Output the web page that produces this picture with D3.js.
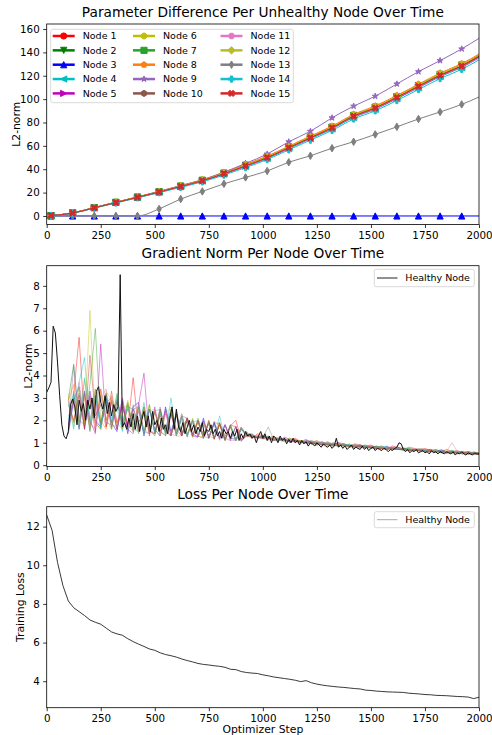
<!DOCTYPE html>
<html>
<head>
<meta charset="utf-8">
<script src="https://cdn.jsdelivr.net/npm/d3@7"></script>
<style>
  body { margin: 0; background: #fff; }
  text { font-family: "DejaVu Sans", sans-serif; }
</style>
</head>
<body>
<div id="chart"></div>
<script>
// ---- data: parameter difference (top) ----
const nodeNames = d3.range(1, 16).map(i => "Node " + i);
const nodeColors = ["#ff0000", "#008000", "#0000ff", "#00bfbf", "#bf00bf", "#bfbf00", "#2ca02c", "#ff7f0e",
                    "#9467bd", "#8c564b", "#e377c2", "#bcbd22", "#7f7f7f", "#17becf", "#d62728"];
const nodeMarkers = ["o", "v", "^", "<", ">", "8", "s", "p", "*", "h", "H", "D", "d", "P", "X"];

const paramSteps = [20, 120, 220, 320, 420, 520, 620, 720, 820, 920, 1020, 1120, 1220, 1320, 1420, 1520, 1620, 1720, 1820, 1920, 2000];
const paramNode1  = [0.3, 2.5, 7.0, 11.5, 16.0, 20.5, 25.3, 30.2, 36.3, 43.0, 50.0, 58.5, 67.0, 75.5, 85.5, 92.5, 101.5, 111.0, 120.5, 128.5, 136.5];
const paramNode2  = [0.3, 2.6, 7.1, 11.6, 16.1, 20.6, 25.4, 30.4, 36.5, 43.2, 50.3, 58.8, 67.3, 75.8, 85.9, 92.9, 101.9, 111.5, 121.0, 129.0, 137.2];
const paramNode3  = [0, 0, 0, 0, 0, 0, 0, 0, 0, 0, 0, 0, 0, 0, 0, 0, 0, 0, 0, 0, 0];
const paramNode4  = [0.3, 2.4, 6.9, 11.4, 15.9, 20.3, 25.0, 29.8, 35.8, 42.3, 49.2, 57.6, 66.0, 74.4, 84.3, 91.3, 100.3, 109.7, 119.2, 127.1, 135.2];
const paramNode5  = [0.3, 2.5, 7.0, 11.4, 15.9, 20.4, 25.2, 30.0, 36.0, 42.7, 49.6, 58.1, 66.5, 75.0, 84.9, 91.9, 100.8, 110.3, 119.8, 127.7, 135.8];
const paramNode6  = [0.3, 2.6, 7.2, 11.7, 16.2, 20.8, 25.7, 30.7, 36.9, 43.7, 50.8, 59.3, 67.8, 76.4, 86.4, 93.5, 102.5, 112.1, 121.6, 129.6, 137.8];
const paramNode7  = [0.3, 2.6, 7.1, 11.6, 16.1, 20.7, 25.5, 30.5, 36.6, 43.4, 50.5, 59.0, 67.5, 76.0, 86.1, 93.1, 102.1, 111.7, 121.2, 129.2, 137.5];
const paramNode8  = [0.3, 2.7, 7.3, 11.8, 16.4, 21.0, 26.0, 31.0, 37.3, 44.2, 51.3, 59.8, 68.4, 77.0, 87.0, 94.2, 103.2, 112.8, 122.4, 130.4, 138.6];
const paramNode9  = [0.3, 2.6, 7.2, 11.8, 16.3, 21.0, 26.0, 31.0, 37.5, 45.0, 53.0, 63.5, 72.5, 84.0, 94.0, 102.5, 113.0, 123.5, 133.0, 143.0, 152.0];
const paramNode10 = [0.3, 2.5, 7.0, 11.5, 16.0, 20.6, 25.4, 30.3, 36.4, 43.1, 50.2, 58.6, 67.1, 75.6, 85.7, 92.7, 101.7, 111.2, 120.7, 128.7, 136.9];
const paramNode11 = [0.3, 2.5, 7.0, 11.5, 15.9, 20.4, 25.2, 30.1, 36.1, 42.8, 49.8, 58.2, 66.6, 75.1, 85.0, 92.0, 100.9, 110.4, 119.8, 127.7, 135.6];
const paramNode12 = [0.3, 2.6, 7.1, 11.6, 16.2, 20.7, 25.6, 30.6, 36.7, 43.5, 50.6, 59.1, 67.6, 76.2, 86.2, 93.3, 102.3, 111.9, 121.4, 129.4, 137.6];
const paramNode13 = [0, 0, 0, 0, 0, 6.0, 14.5, 21.0, 27.5, 33.0, 38.5, 46.0, 51.5, 58.0, 63.5, 69.8, 76.3, 83.0, 89.0, 95.5, 101.8];
const paramNode14 = [0.3, 2.3, 6.7, 11.1, 15.5, 19.9, 24.5, 29.2, 35.0, 41.4, 48.3, 56.6, 64.9, 73.2, 83.0, 90.0, 98.8, 108.2, 117.6, 125.5, 133.6];
const paramNode15 = [0.3, 2.5, 7.0, 11.5, 16.0, 20.5, 25.3, 30.2, 36.2, 42.9, 49.9, 58.4, 66.9, 75.4, 85.4, 92.4, 101.4, 110.9, 120.3, 128.3, 136.4];
const paramSeries = [paramNode1, paramNode2, paramNode3, paramNode4, paramNode5, paramNode6, paramNode7, paramNode8,
                     paramNode9, paramNode10, paramNode11, paramNode12, paramNode13, paramNode14, paramNode15];

// ---- data: gradient norm (middle) ----
const gradHealthySteps = d3.range(0, 2001, 10);
const gradHealthy = [
  3.25, 3.45, 3.7, 6.2, 5.9, 4.6, 3.1, 1.8, 1.3, 1.18,
  1.5, 2.7, 2.95, 2.6, 1.8, 2.9, 2.4, 2.75, 2.0, 2.9,
  2.5, 3.0, 2.1, 3.3, 3.5, 2.8, 2.5, 3.1, 2.3, 2.8,
  2.2, 2.7, 2.4, 2.6, 8.5, 1.7, 1.9, 1.6, 2.1, 1.7,
  2.3, 1.6, 2.2, 1.5, 2.0, 2.4, 1.7, 2.2, 1.5, 2.4,
  1.8, 2.0, 1.5, 2.1, 1.6, 1.8, 1.4, 2.1, 2.6, 1.6,
  2.5, 1.7, 1.5, 1.9, 1.4, 1.7, 2.0, 1.5, 1.8, 1.4,
  1.7, 1.5, 1.9, 1.3, 1.6, 1.5, 1.8, 1.4, 1.6, 1.3,
  1.5, 1.2, 1.6, 1.4, 1.5, 1.2, 1.5, 1.3, 1.6, 1.1,
  1.4, 1.2, 1.5, 1.3, 1.4, 1.2, 1.3, 1.0, 1.3, 1.5,
  1.2, 1.4, 1.1, 1.3, 1.0, 1.3, 1.2, 1.0, 1.3, 1.1,
  1.2, 0.95, 1.15, 1.0, 1.2, 1.0, 1.1, 0.9, 1.1, 0.95,
  1.05, 0.85, 1.0, 0.95, 0.85, 1.0, 0.9, 0.8, 0.95, 0.85,
  0.8, 0.9, 0.75, 0.85, 1.2, 0.8, 0.9, 0.75, 0.85, 0.7,
  0.8, 0.9, 0.7, 0.8, 0.75, 0.7, 0.85, 0.7, 0.8, 0.65,
  0.75, 0.8, 0.65, 0.75, 0.7, 0.65, 0.75, 0.7, 0.6, 0.7,
  0.65, 0.75, 0.8, 1.0, 0.95, 0.7, 0.6, 0.7, 0.55, 0.65,
  0.6, 0.7, 0.55, 0.6, 0.65, 0.55, 0.6, 0.5, 0.65, 0.55,
  0.6, 0.5, 0.6, 0.55, 0.5, 0.6, 0.55, 0.5, 0.6, 0.45,
  0.55, 0.5, 0.6, 0.5, 0.45, 0.55, 0.5, 0.45, 0.55, 0.5,
  0.5
];
const gradNodeSteps = d3.range(100, 2001, 25);
const gradNode1 = [1.6, 3.2, 5.7, 1.9, 3.1, 1.5, 3.4, 2.0, 2.9, 1.6, 2.8,
  1.7, 3.9, 1.5, 2.6, 1.4, 2.4, 1.5, 2.5, 1.3, 2.3, 1.4,
  2.1, 1.3, 2.0, 1.35, 1.9, 1.2, 1.85, 1.3, 1.75, 2.0, 1.15,
  1.5, 1.2, 1.4, 1.3, 1.2, 1.3, 1.1, 1.25, 1.15, 1.2, 1.05,
  1.15, 1.0, 1.1, 0.95, 1.05, 0.9, 1.0, 0.95, 0.85, 0.95, 0.9,
  0.85, 0.9, 0.8, 0.85, 0.75, 0.85, 0.8, 0.7, 0.8, 0.75, 0.7,
  0.75, 0.65, 0.7, 0.6, 0.7, 0.6, 0.65, 0.55, 0.6, 0.55, 0.55];
const gradNode2 = [2.9, 4.5, 1.7, 3.3, 1.5, 3.1, 1.9, 3.2, 1.6, 2.9, 1.9,
  2.8, 1.5, 2.6, 1.4, 2.7, 1.4, 2.3, 1.6, 2.5, 1.4, 2.2,
  1.35, 2.0, 1.3, 1.95, 1.25, 1.85, 1.2, 1.8, 1.2, 1.7, 1.15,
  1.4, 1.35, 1.25, 1.3, 1.15, 1.25, 1.2, 1.1, 1.2, 1.05, 1.1,
  1.0, 1.1, 1.0, 1.05, 0.9, 1.0, 0.9, 0.95, 0.85, 0.9, 0.85,
  0.9, 0.8, 0.85, 0.75, 0.8, 0.75, 0.8, 0.7, 0.75, 0.7, 0.65,
  0.7, 0.65, 0.6, 0.7, 0.6, 0.65, 0.55, 0.6, 0.55, 0.5, 0.55];
const gradNode3 = [1.4, 2.9, 3.5, 1.6, 3.3, 2.0, 1.7, 3.0, 1.9, 1.5, 2.9,
  1.4, 2.6, 2.8, 1.3, 2.5, 1.6, 1.3, 2.6, 1.5, 2.3, 1.3,
  2.1, 1.4, 1.25, 2.1, 1.2, 1.9, 1.25, 1.8, 1.2, 1.15, 1.7,
  1.3, 1.4, 1.2, 1.3, 1.25, 1.1, 1.2, 1.15, 1.05, 1.15, 1.0,
  1.1, 1.05, 0.95, 1.0, 0.95, 0.9, 1.0, 0.85, 0.9, 0.85, 0.9,
  0.8, 0.85, 0.8, 0.75, 0.85, 0.7, 0.75, 0.75, 0.7, 0.65, 0.7,
  0.65, 0.7, 0.6, 0.65, 0.6, 0.55, 0.6, 0.55, 0.6, 0.5, 0.5];
const gradNode4 = [2.8, 1.6, 3.7, 4.8, 1.8, 3.4, 1.6, 3.1, 2.1, 2.6, 1.5,
  2.7, 1.6, 1.5, 2.8, 1.4, 2.4, 2.5, 1.3, 2.4, 1.5, 2.0,
  1.4, 2.0, 1.45, 1.8, 1.3, 1.8, 1.25, 1.2, 1.75, 1.1, 1.6,
  1.35, 1.25, 1.3, 1.2, 1.3, 1.15, 1.1, 1.2, 1.1, 1.05, 1.1,
  1.05, 0.95, 1.05, 0.9, 1.0, 0.95, 0.85, 0.95, 0.9, 0.8, 0.9,
  0.85, 0.8, 0.75, 0.85, 0.8, 0.7, 0.8, 0.7, 0.75, 0.65, 0.7,
  0.7, 0.6, 0.65, 0.6, 0.55, 0.65, 0.6, 0.5, 0.6, 0.55, 0.5];
const gradNode5 = [1.8, 3.0, 1.6, 3.2, 2.0, 1.4, 5.4, 1.7, 2.8, 1.6, 3.0,
  1.6, 1.4, 2.7, 4.1, 1.3, 2.6, 1.3, 2.4, 1.35, 2.3, 1.3,
  2.1, 1.3, 1.25, 2.0, 1.2, 1.95, 1.15, 1.8, 1.1, 1.75, 1.1,
  1.35, 1.3, 1.2, 1.3, 1.2, 1.15, 1.1, 1.2, 1.0, 1.1, 1.05,
  1.0, 1.05, 0.9, 1.0, 0.9, 0.95, 0.85, 0.9, 0.8, 0.9, 0.85,
  0.8, 0.85, 0.75, 0.8, 0.7, 0.8, 0.7, 0.75, 0.65, 0.7, 0.7,
  0.6, 0.7, 0.6, 0.6, 0.55, 0.6, 0.55, 0.6, 0.5, 0.55, 0.5];
const gradNode6 = [3.1, 1.7, 3.5, 1.9, 6.9, 1.8, 3.3, 2.1, 1.6, 3.1, 1.7,
  2.9, 1.6, 2.6, 1.5, 2.7, 1.4, 2.5, 1.35, 2.4, 1.45, 2.3,
  1.3, 2.1, 1.3, 1.25, 2.0, 1.2, 1.9, 1.15, 1.75, 1.1, 1.7,
  1.3, 1.35, 1.25, 1.2, 1.3, 1.1, 1.2, 1.1, 1.15, 1.0, 1.1,
  1.05, 0.95, 1.0, 0.95, 1.0, 0.85, 0.95, 0.9, 0.85, 0.9, 0.8,
  0.85, 0.8, 0.8, 0.75, 0.8, 0.75, 0.7, 0.8, 0.7, 0.7, 0.65,
  0.7, 0.6, 0.65, 0.55, 0.65, 0.6, 0.55, 0.6, 0.55, 0.55, 0.5];
const gradNode7 = [1.5, 3.2, 2.0, 1.8, 3.6, 6.1, 1.8, 3.0, 1.9, 3.2, 1.6,
  2.6, 2.5, 1.4, 2.6, 1.6, 1.3, 2.4, 1.5, 1.3, 2.4, 1.4,
  2.0, 1.25, 2.1, 1.3, 1.2, 1.9, 1.85, 1.15, 1.8, 1.15, 1.6,
  1.4, 1.3, 1.25, 1.35, 1.15, 1.2, 1.15, 1.05, 1.15, 1.1, 1.0,
  1.05, 1.0, 0.95, 0.9, 1.0, 0.9, 0.95, 0.85, 0.95, 0.85, 0.8,
  0.85, 0.75, 0.85, 0.8, 0.75, 0.8, 0.7, 0.75, 0.7, 0.65, 0.75,
  0.65, 0.6, 0.7, 0.6, 0.6, 0.55, 0.6, 0.55, 0.5, 0.6, 0.55];
const gradNode8 = [2.9, 3.6, 1.9, 3.0, 1.7, 3.4, 2.0, 1.6, 3.1, 1.8, 2.5,
  2.7, 1.5, 2.5, 1.6, 1.4, 2.5, 1.5, 1.35, 2.3, 1.3, 2.2,
  1.4, 1.9, 1.25, 1.9, 1.3, 1.2, 1.8, 1.15, 1.75, 1.1, 1.65,
  1.3, 1.25, 1.35, 1.2, 1.25, 1.15, 1.2, 1.1, 1.1, 1.05, 1.1,
  1.0, 1.0, 1.05, 0.9, 0.95, 0.9, 0.85, 0.9, 0.85, 0.85, 0.8,
  0.8, 0.85, 0.75, 0.75, 0.8, 0.7, 0.75, 0.7, 0.65, 0.7, 0.65,
  0.65, 0.65, 0.6, 0.6, 0.6, 0.55, 0.55, 0.6, 0.5, 0.5, 0.55];
const gradNode9 = [1.7, 4.4, 2.1, 3.3, 1.9, 1.6, 3.1, 1.9, 1.8, 2.9, 2.0,
  1.6, 2.7, 1.5, 2.5, 1.6, 1.4, 2.6, 1.4, 2.3, 1.3, 2.2,
  2.1, 1.25, 1.95, 1.3, 1.9, 1.2, 1.85, 1.2, 1.1, 1.7, 1.05,
  1.35, 1.3, 1.2, 1.25, 1.2, 1.2, 1.1, 1.15, 1.05, 1.1, 1.0,
  1.05, 0.95, 1.0, 1.0, 0.9, 0.95, 0.9, 0.85, 0.9, 0.8, 0.85,
  0.8, 0.8, 0.75, 0.8, 0.7, 0.75, 0.75, 0.65, 0.7, 0.7, 0.65,
  0.65, 0.6, 0.6, 0.65, 0.55, 0.6, 0.55, 0.5, 0.55, 0.55, 0.5];
const gradNode10 = [2.7, 2.0, 3.2, 1.7, 3.0, 1.9, 1.6, 3.2, 1.7, 2.8, 1.8,
  2.5, 1.8, 2.4, 1.4, 2.5, 1.5, 2.2, 1.6, 1.3, 2.2, 1.35,
  1.95, 1.4, 1.9, 1.2, 1.9, 1.2, 1.8, 1.1, 1.7, 1.1, 1.6,
  1.3, 1.3, 1.25, 1.2, 1.2, 1.15, 1.15, 1.1, 1.05, 1.1, 1.0,
  1.0, 1.0, 0.95, 0.95, 0.9, 0.9, 0.9, 0.85, 0.85, 0.85, 0.8,
  0.8, 0.8, 0.75, 0.75, 0.75, 0.7, 0.7, 0.7, 0.65, 0.65, 0.65,
  0.6, 0.6, 0.6, 0.6, 0.55, 0.55, 0.55, 0.55, 0.5, 0.5, 0.5];
const gradNode11 = [2.2, 2.6, 3.7, 2.1, 3.3, 1.8, 3.0, 3.4, 1.8, 1.7, 3.0,
  1.8, 1.5, 2.8, 1.4, 2.4, 2.5, 1.3, 2.3, 1.4, 1.3, 2.3,
  1.25, 2.05, 1.3, 1.9, 1.25, 1.8, 1.1, 1.8, 1.1, 1.1, 1.7,
  1.35, 1.2, 1.3, 1.25, 1.1, 1.2, 1.1, 1.1, 1.1, 1.0, 1.05,
  0.95, 1.05, 0.95, 0.95, 0.85, 1.0, 0.85, 0.9, 0.8, 0.9, 0.8,
  0.75, 0.85, 0.7, 0.8, 0.75, 0.7, 0.75, 0.7, 0.65, 0.75, 0.6,
  0.7, 0.6, 0.65, 0.55, 0.6, 1.0, 0.6, 0.5, 0.55, 0.5, 0.55];
const gradNode12 = [3.2, 2.6, 1.8, 3.8, 2.2, 1.9, 1.6, 3.3, 2.9, 1.9, 1.6,
  2.8, 1.7, 1.5, 2.6, 1.5, 2.4, 1.3, 2.3, 2.6, 1.3, 1.3,
  2.15, 1.25, 1.95, 1.3, 1.85, 1.15, 1.85, 1.1, 1.7, 1.1, 1.65,
  1.25, 1.3, 1.3, 1.15, 1.2, 1.2, 1.1, 1.05, 1.15, 1.05, 1.0,
  1.05, 0.95, 0.9, 1.0, 0.9, 0.85, 0.95, 0.85, 0.8, 0.85, 0.85,
  0.8, 0.75, 0.8, 0.75, 0.7, 0.75, 0.7, 0.65, 0.75, 0.65, 0.7,
  0.6, 0.65, 0.6, 0.55, 0.6, 0.55, 0.6, 0.5, 0.55, 0.5, 0.5];
const gradNode13 = [1.6, 3.0, 1.9, 3.1, 1.6, 2.9, 1.8, 2.8, 3.0, 1.6, 2.7,
  1.5, 2.5, 2.6, 1.5, 1.4, 2.4, 1.5, 1.3, 2.3, 1.4, 2.1,
  1.25, 2.0, 1.3, 1.2, 1.9, 1.2, 1.8, 1.15, 1.75, 1.1, 1.65,
  1.3, 1.35, 1.2, 1.25, 1.7, 1.15, 1.2, 1.1, 1.1, 1.05, 1.05,
  1.0, 0.95, 1.0, 0.9, 0.95, 0.9, 0.85, 0.9, 0.85, 0.8, 0.85,
  0.8, 0.75, 0.8, 0.7, 0.75, 0.75, 0.7, 0.7, 0.7, 0.65, 0.65,
  0.65, 0.6, 0.6, 0.6, 0.55, 0.55, 0.55, 0.55, 0.5, 0.5, 0.5];
const gradNode14 = [2.0, 3.3, 1.6, 3.9, 2.0, 3.1, 1.7, 2.9, 1.9, 3.0, 1.7,
  2.7, 1.6, 2.6, 1.4, 2.5, 1.5, 2.4, 1.4, 3.0, 1.3, 2.2,
  1.3, 1.9, 2.0, 1.25, 1.9, 1.2, 2.2, 1.15, 1.8, 1.1, 1.6,
  1.4, 1.25, 1.3, 1.2, 1.25, 1.1, 1.2, 1.1, 1.05, 1.15, 1.0,
  1.0, 1.0, 0.9, 1.0, 0.9, 0.9, 0.85, 0.95, 0.8, 0.85, 0.8,
  0.85, 0.75, 0.8, 0.75, 0.8, 0.7, 0.75, 0.65, 0.7, 0.7, 0.65,
  0.65, 0.6, 0.65, 0.55, 0.6, 0.55, 0.6, 0.55, 0.5, 0.55, 0.5];
const gradNode15 = [2.9, 1.9, 3.1, 1.6, 4.9, 2.2, 2.7, 1.7, 3.3, 1.9, 2.6,
  1.8, 2.5, 1.9, 2.4, 1.5, 1.4, 2.5, 1.5, 2.3, 1.6, 1.3,
  2.1, 1.3, 2.0, 1.2, 2.0, 1.15, 1.9, 1.1, 1.8, 1.7, 1.1,
  1.3, 1.3, 1.25, 1.2, 1.25, 1.1, 1.15, 1.15, 1.05, 1.1, 1.05,
  1.0, 1.0, 0.95, 0.9, 0.95, 0.85, 0.9, 0.9, 0.85, 0.8, 0.85,
  0.8, 0.8, 0.75, 0.75, 0.7, 0.75, 0.7, 0.7, 0.65, 0.7, 0.65,
  0.6, 0.65, 0.6, 0.6, 0.55, 0.6, 0.5, 0.55, 0.55, 0.5, 0.5];
const gradSeries = [gradNode1, gradNode2, gradNode3, gradNode4, gradNode5, gradNode6, gradNode7, gradNode8,
                    gradNode9, gradNode10, gradNode11, gradNode12, gradNode13, gradNode14, gradNode15];

// ---- data: loss (bottom) ----
const lossSteps = d3.range(0, 2001, 25);
const lossHealthy = [
  12.6, 11.8, 10.15, 8.95, 8.15, 7.8, 7.6, 7.4, 7.17, 7.05,
  6.95, 6.75, 6.55, 6.45, 6.38, 6.2, 6.05, 5.92, 5.8, 5.67,
  5.6, 5.47, 5.38, 5.32, 5.25, 5.15, 5.07, 5.0, 4.92, 4.87,
  4.84, 4.8, 4.77, 4.72, 4.62, 4.6, 4.5, 4.45, 4.42, 4.4,
  4.33, 4.28, 4.22, 4.18, 4.14, 4.1, 4.05, 3.98, 4.03, 3.92,
  3.85, 3.8, 3.76, 3.73, 3.7, 3.68, 3.65, 3.62, 3.6, 3.54,
  3.52, 3.49, 3.47, 3.45, 3.44, 3.43, 3.42, 3.38, 3.36, 3.34,
  3.31, 3.3, 3.27, 3.26, 3.25, 3.23, 3.21, 3.2, 3.18, 3.1,
  3.17
];

const xTickValues = [0, 250, 500, 750, 1000, 1250, 1500, 1750, 2000];

// ---- layout ----
const width = 492, height = 735;
const left = 46.7, right = 479;
const svg = d3.select("#chart").append("svg").attr("width", width).attr("height", height);
const x = d3.scaleLinear().domain([0, 2000]).range([left, right]);

function panel(id, top, bottom, yDomain, yTicks, title, titleY, ylabel, ylabelX) {
  const y = d3.scaleLinear().domain(yDomain).range([bottom, top]);
  svg.append("clipPath").attr("id", "clip" + id).append("rect")
    .attr("x", left).attr("y", top).attr("width", right - left).attr("height", bottom - top);
  const plot = svg.append("g").attr("clip-path", `url(#clip${id})`);
  const axes = svg.append("g");

  const xa = axes.append("g").attr("transform", `translate(0,${bottom})`)
    .call(d3.axisBottom(x).tickValues(xTickValues).tickFormat(d3.format("d")).tickSize(3.5).tickPadding(3.5));
  const ya = axes.append("g").attr("transform", `translate(${left},0)`)
    .call(d3.axisLeft(y).tickValues(yTicks).tickFormat(d3.format("d")).tickSize(3.5).tickPadding(3.5));
  [xa, ya].forEach(a => {
    a.select(".domain").remove();
    a.selectAll(".tick line").attr("stroke", "#000").attr("stroke-width", 0.8);
    a.selectAll(".tick text").attr("font-size", 10.3).attr("fill", "#000")
      .attr("font-family", "DejaVu Sans, sans-serif");
  });

  axes.append("rect").attr("x", left).attr("y", top)
    .attr("width", right - left).attr("height", bottom - top)
    .attr("fill", "none").attr("stroke", "#000").attr("stroke-width", 0.8);

  axes.append("text").attr("x", (left + right) / 2).attr("y", titleY)
    .attr("text-anchor", "middle").attr("font-size", 13.7).text(title);

  axes.append("text")
    .attr("transform", `translate(${ylabelX},${(top + bottom) / 2}) rotate(-90)`)
    .attr("text-anchor", "middle").attr("dy", "0.35em").attr("font-size", 10.8).text(ylabel);

  return { y, plot, axes };
}

// matplotlib-like marker shapes, s = marker size in px
function markerPath(m, s) {
  const r = s / 2;
  const poly = (pts) => "M" + pts.map(p => p[0].toFixed(2) + "," + p[1].toFixed(2)).join("L") + "Z";
  const ngon = (n, rad, rot) => d3.range(n).map(k => {
    const a = (rot + k * 360 / n) * Math.PI / 180;
    return [rad * Math.sin(a), -rad * Math.cos(a)];
  });
  switch (m) {
    case "o": return d3.symbol(d3.symbolCircle, Math.PI * r * r)();
    case "v": return poly([[0, r], [-r, -r], [r, -r]]);
    case "^": return poly([[0, -r], [-r, r], [r, r]]);
    case "<": return poly([[-r, 0], [r, -r], [r, r]]);
    case ">": return poly([[r, 0], [-r, -r], [-r, r]]);
    case "8": return poly(ngon(8, r, 22.5));
    case "s": return poly([[-r, -r], [r, -r], [r, r], [-r, r]]);
    case "p": return poly(ngon(5, r, 0));
    case "*": return poly(d3.range(10).map(k => {
      const a = k * 36 * Math.PI / 180, rr = k % 2 ? r * 0.382 : r;
      return [rr * Math.sin(a), -rr * Math.cos(a)];
    }));
    case "h": return poly(ngon(6, r, 0));
    case "H": return poly(ngon(6, r, 30));
    case "D": return poly([[0, -r * 1.2], [r * 1.2, 0], [0, r * 1.2], [-r * 1.2, 0]]);
    case "d": return poly([[0, -r * 1.2], [r * 0.72, 0], [0, r * 1.2], [-r * 0.72, 0]]);
    case "P": {
      const a = r / 3;
      return poly([[-a, -r], [a, -r], [a, -a], [r, -a], [r, a], [a, a], [a, r], [-a, r], [-a, a], [-r, a], [-r, -a], [-a, -a]]);
    }
    case "X": {
      const u = r / 2;
      return poly([[-u, -2 * u], [0, -u], [u, -2 * u], [2 * u, -u], [u, 0], [2 * u, u], [u, 2 * u], [0, u], [-u, 2 * u], [-2 * u, u], [-u, 0], [-2 * u, -u]]);
    }
  }
}
const markerSize = 6.2;

// ---- top: parameter difference ----
const p1 = panel(1, 24, 224.5, [-7.3, 164.3], d3.range(0, 161, 20),
  "Parameter Difference Per Unhealthy Node Over Time", 17, "L2-norm", 16.7);

paramSeries.forEach((vals, i) => {
  const pts = paramSteps.map((s, k) => [s, vals[k]]);
  p1.plot.append("path")
    .attr("d", d3.line().x(d => x(d[0])).y(d => p1.y(d[1])).curve(d3.curveMonotoneX)(pts))
    .attr("fill", "none").attr("stroke", nodeColors[i]).attr("stroke-width", 1);
  p1.plot.selectAll(null)
    .data(pts.filter(d => d[0] % 100 === 20))
    .enter().append("path")
    .attr("transform", d => `translate(${x(d[0])},${p1.y(d[1])})`)
    .attr("d", markerPath(nodeMarkers[i], markerSize))
    .attr("fill", nodeColors[i]).attr("stroke", nodeColors[i]).attr("stroke-width", 1);
});

// legend (3 columns x 5 rows)
const leg1 = p1.axes.append("g");
leg1.append("rect").attr("x", 50.7).attr("y", 29.3).attr("width", 242.6).attr("height", 73.4)
  .attr("rx", 2).attr("fill", "#fff").attr("fill-opacity", 0.8).attr("stroke", "#d0d0d0").attr("stroke-width", 0.8);
const legCols = [52.7, 133, 220.5];
nodeNames.forEach((name, i) => {
  const col = Math.floor(i / 5), row = i % 5;
  const lx = legCols[col], ly = 36 + row * 14.35;
  leg1.append("line").attr("x1", lx).attr("x2", lx + 22).attr("y1", ly).attr("y2", ly)
    .attr("stroke", nodeColors[i]).attr("stroke-width", 2.5);
  leg1.append("path").attr("transform", `translate(${lx + 11},${ly})`)
    .attr("d", markerPath(nodeMarkers[i], markerSize))
    .attr("fill", nodeColors[i]).attr("stroke", nodeColors[i]).attr("stroke-width", 1);
  leg1.append("text").attr("x", lx + 30).attr("y", ly).attr("dy", "0.35em")
    .attr("font-size", 9.5).text(name);
});

// ---- middle: gradient norm ----
const p2 = panel(2, 265.7, 466.5, [-0.06, 8.9], d3.range(0, 9, 1),
  "Gradient Norm Per Node Over Time", 258.3, "L2-norm", 28);

gradSeries.forEach((vals, i) => {
  p2.plot.append("path")
    .attr("d", d3.line().x((d, k) => x(gradNodeSteps[k])).y(d => p2.y(d))(vals))
    .attr("fill", "none").attr("stroke", nodeColors[i]).attr("stroke-opacity", 0.55).attr("stroke-width", 0.8);
});
p2.plot.append("path")
  .attr("d", d3.line().x((d, k) => x(gradHealthySteps[k])).y(d => p2.y(d))(gradHealthy))
  .attr("fill", "none").attr("stroke", "#111").attr("stroke-width", 1);

function healthyLegend(p, top, h, color, lw) {
  const g = p.axes.append("g");
  g.append("rect").attr("x", 374.3).attr("y", top).attr("width", 100).attr("height", h)
    .attr("rx", 2).attr("fill", "#fff").attr("fill-opacity", 0.8).attr("stroke", "#d0d0d0").attr("stroke-width", 0.8);
  const cy = top + h / 2;
  g.append("line").attr("x1", 377).attr("x2", 397.5).attr("y1", cy).attr("y2", cy)
    .attr("stroke", color).attr("stroke-width", lw);
  g.append("text").attr("x", 405.3).attr("y", cy).attr("dy", "0.35em").attr("font-size", 9.5).text("Healthy Node");
}
healthyLegend(p2, 269.3, 17.4, "#555", 1.3);

// ---- bottom: loss ----
const p3 = panel(3, 506.7, 707.7, [2.63, 13.03], [4, 6, 8, 10, 12],
  "Loss Per Node Over Time", 499.3, "Training Loss", 20.5);

p3.plot.append("path")
  .attr("d", d3.line().x((d, k) => x(lossSteps[k])).y(d => p3.y(d))(lossHealthy))
  .attr("fill", "none").attr("stroke", "#222").attr("stroke-width", 0.9);
healthyLegend(p3, 511.7, 16, "#aaa", 1);

p3.axes.append("text").attr("x", (left + right) / 2).attr("y", 732.5)
  .attr("text-anchor", "middle").attr("font-size", 10.8).text("Optimizer Step");
</script>
</body>
</html>
